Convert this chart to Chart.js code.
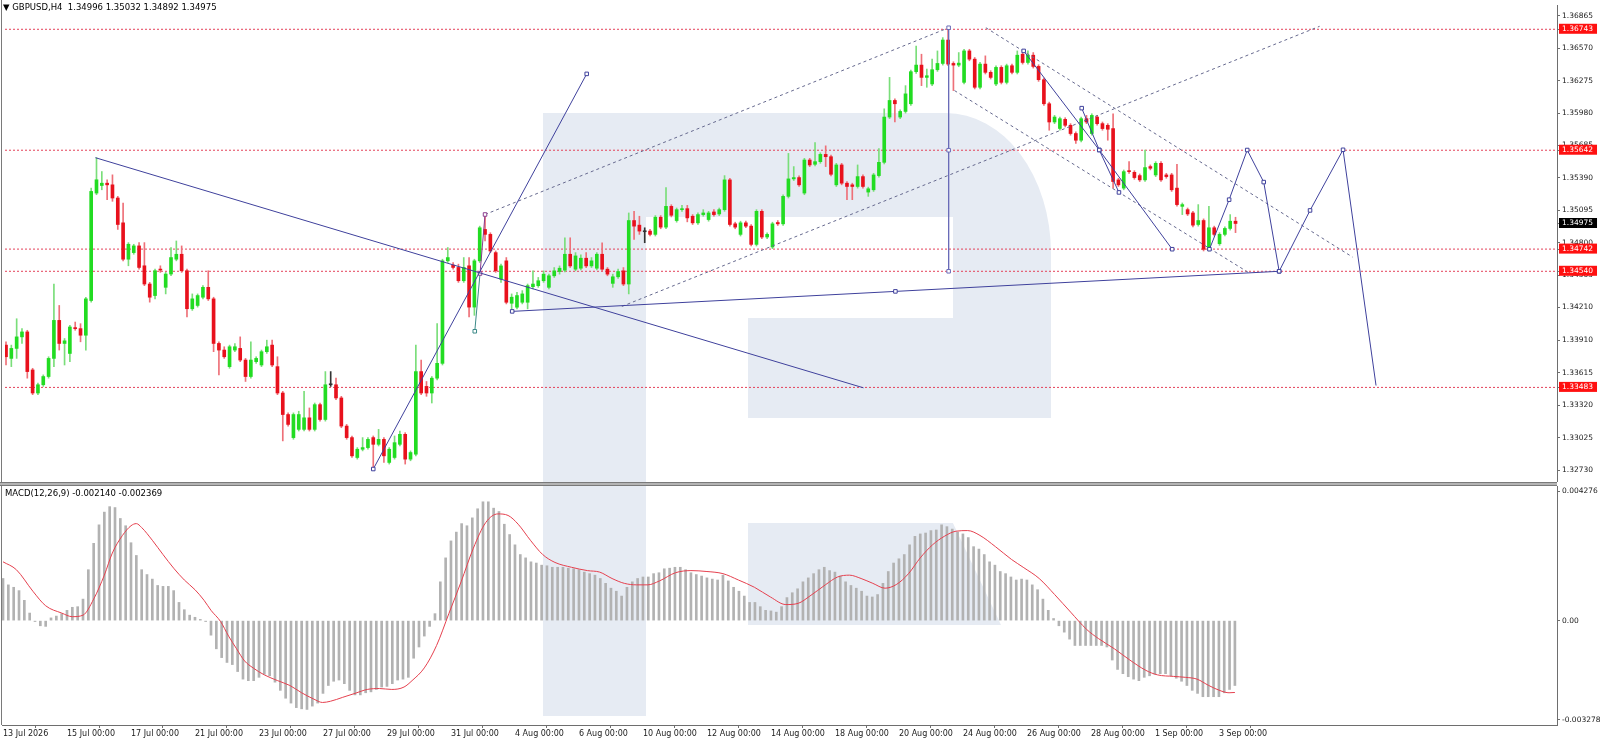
<!DOCTYPE html>
<html><head><meta charset="utf-8">
<script src="https://cdn.jsdelivr.net/npm/chart.js@4.4.1/dist/chart.umd.min.js"></script>
<style>
html,body{margin:0;padding:0;background:#fff;}
body{width:1600px;height:741px;position:relative;overflow:hidden;font-family:'DejaVu Sans',sans-serif;}
.wm{position:absolute;background:#e6ebf3;z-index:0;}
.wh{position:absolute;background:#fff;z-index:0;}
canvas{position:absolute;left:0;z-index:1;}
.ln{position:absolute;z-index:2;}
.txt{position:absolute;z-index:3;font-size:8.5px;color:#000;white-space:pre;font-family:'DejaVu Sans',sans-serif;}
</style></head><body>
<div class="wm" style="left:543px;top:113px;width:508px;height:305px;border-top-right-radius:105px 140px;"></div>
<div class="wh" style="left:646px;top:217px;width:307px;height:101px;"></div>
<div class="wh" style="left:646px;top:318px;width:102px;height:100px;"></div>
<div class="wm" style="left:543px;top:113px;width:103px;height:603px;"></div>
<div class="wm" style="left:748px;top:523px;width:253px;height:102px;clip-path:polygon(0 0,81% 0,100% 100%,0 100%);"></div>
<canvas id="main" width="1600" height="486" style="top:0"></canvas>
<canvas id="macd" width="1600" height="255" style="top:486px"></canvas>
<div class="ln" style="left:1px;top:0;width:1px;height:725px;background:#7a7a7a"></div>
<div class="ln" style="left:0;top:482px;width:1557px;height:1px;background:#7a7a7a"></div>
<div class="ln" style="left:0;top:483px;width:1557px;height:2px;background:#b4b4b4"></div>
<div class="ln" style="left:0;top:485px;width:1557px;height:1px;background:#7a7a7a"></div>
<div class="txt" style="left:3px;top:2px;">▼ GBPUSD,H4  1.34996 1.35032 1.34892 1.34975</div>
<div class="txt" style="left:5px;top:488px;">MACD(12,26,9) -0.002140 -0.002369</div>
<script>
// ---- price candles (H4, bar index 0 = 13 Jul 2026 00:00) ----
const openP = [1.33868,1.33747,1.33838,1.33943,1.33988,1.33642,1.33432,1.33507,1.33582,1.33747,
1.34093,1.33883,1.33792,1.34027,1.34018,1.33958,1.34274,1.35252,1.35321,1.35342,
1.35327,1.35207,1.34981,1.34650,1.34710,1.34771,1.34590,1.34424,1.34319,1.34560,
1.34394,1.34515,1.34650,1.34695,1.34545,1.34199,1.34229,1.34304,1.34394,1.34289,
1.33883,1.33823,1.33672,1.33823,1.33838,1.33732,1.33582,1.33717,1.33687,1.33808,
1.33868,1.33672,1.33432,1.33236,1.33026,1.33101,1.33101,1.33206,1.33101,1.33326,
1.33191,1.33507,1.33507,1.33387,1.33131,1.33026,1.32845,1.32920,1.32935,1.33026,
1.32965,1.33010,1.32800,1.32845,1.32965,1.33056,1.32830,1.32875,1.33627,1.33492,
1.33432,1.33567,1.33702,1.34635,1.34596,1.34575,1.34454,1.34590,1.34214,1.34635,
1.34921,1.34876,1.34710,1.34469,1.34635,1.34249,1.34213,1.34258,1.34258,1.34400,
1.34409,1.34454,1.34394,1.34499,1.34538,1.34550,1.34695,1.34559,1.34568,1.34659,
1.34589,1.34568,1.34695,1.34559,1.34430,1.34490,1.34544,1.34424,1.35002,1.34960,
1.34900,1.34906,1.34876,1.35032,1.34942,1.35131,1.35002,1.35101,1.35110,1.35041,
1.34981,1.35056,1.35011,1.35080,1.35062,1.35101,1.35372,1.34972,1.34876,1.34981,
1.34951,1.34785,1.35086,1.34852,1.34761,1.34984,1.34972,1.35222,1.35381,1.35393,
1.35252,1.35553,1.35514,1.35538,1.35604,1.35583,1.35327,1.35508,1.35342,1.35327,
1.35312,1.35402,1.35261,1.35282,1.35411,1.35532,1.35944,1.36095,1.35944,1.35995,
1.36065,1.36357,1.36417,1.36305,1.36245,1.36375,1.36432,1.36645,1.36432,1.36417,
1.36260,1.36546,1.36471,1.36215,1.36426,1.36351,1.36245,1.36396,1.36260,1.36411,
1.36351,1.36516,1.36441,1.36507,1.36405,1.36284,1.36065,1.35899,1.35840,1.35923,
1.35869,1.35794,1.35733,1.35929,1.35794,1.35944,1.35884,1.35869,1.35839,1.35372,
1.35297,1.35453,1.35441,1.35411,1.35372,1.35493,1.35417,1.35523,1.35417,1.35417,
1.35297,1.35131,1.35101,1.35071,1.34966,1.35002,1.34740,1.34936,1.34791,1.34876,
1.34930,1.34996];
const highP = [1.33898,1.33868,1.34108,1.34018,1.34003,1.33657,1.33522,1.33597,1.33762,1.34424,
1.34229,1.33928,1.34048,1.34078,1.34063,1.34304,1.35297,1.35574,1.35448,1.35372,
1.35418,1.35222,1.35162,1.34801,1.34786,1.34801,1.34801,1.34439,1.34560,1.34590,
1.34530,1.34756,1.34816,1.34771,1.34560,1.34334,1.34334,1.34409,1.34545,1.34304,
1.33898,1.33853,1.33868,1.33883,1.33943,1.33747,1.33898,1.33762,1.33823,1.33913,
1.33913,1.33762,1.33447,1.33251,1.33251,1.33266,1.33447,1.33296,1.33341,1.33341,
1.33627,1.33627,1.33567,1.33402,1.33146,1.33041,1.32935,1.33026,1.33026,1.33041,
1.33101,1.33026,1.32935,1.33041,1.33086,1.33071,1.32905,1.33868,1.33732,1.33537,
1.33582,1.34063,1.34650,1.34756,1.34620,1.34605,1.34665,1.34665,1.34650,1.34951,
1.35057,1.34891,1.34725,1.34605,1.34665,1.34334,1.34349,1.34364,1.34424,1.34544,
1.34484,1.34544,1.34514,1.34574,1.34589,1.34845,1.34845,1.34710,1.34689,1.34710,
1.34665,1.34710,1.34800,1.34574,1.34514,1.34559,1.34574,1.35071,1.35086,1.35041,
1.34936,1.34921,1.35047,1.35047,1.35303,1.35146,1.35116,1.35140,1.35140,1.35056,
1.35071,1.35101,1.35086,1.35101,1.35116,1.35411,1.35387,1.34987,1.34996,1.34996,
1.34966,1.35101,1.35101,1.34891,1.34987,1.35002,1.35237,1.35613,1.35493,1.35408,
1.35568,1.35568,1.35712,1.35619,1.35682,1.35598,1.35523,1.35523,1.35357,1.35342,
1.35508,1.35417,1.35306,1.35432,1.35658,1.36019,1.36305,1.36110,1.36010,1.36230,
1.36372,1.36591,1.36516,1.36381,1.36471,1.36546,1.36667,1.36757,1.36447,1.36531,
1.36561,1.36561,1.36486,1.36441,1.36501,1.36366,1.36411,1.36411,1.36426,1.36426,
1.36546,1.36546,1.36546,1.36531,1.36420,1.36299,1.36080,1.35959,1.35944,1.35938,
1.35884,1.35809,1.35944,1.35959,1.35974,1.35959,1.35899,1.35884,1.35974,1.35387,
1.35462,1.35538,1.35456,1.35426,1.35643,1.35508,1.35538,1.35538,1.35432,1.35432,
1.35514,1.35162,1.35116,1.35086,1.35147,1.35017,1.35131,1.34951,1.34891,1.34945,
1.35056,1.35032];
const lowP = [1.33687,1.33672,1.33747,1.33883,1.33567,1.33417,1.33417,1.33492,1.33567,1.33672,
1.33823,1.33687,1.33717,1.34003,1.33898,1.33823,1.34259,1.35237,1.35282,1.35192,
1.35177,1.34921,1.34635,1.34590,1.34695,1.34560,1.34409,1.34259,1.34289,1.34530,
1.34334,1.34500,1.34635,1.34530,1.34124,1.34184,1.34214,1.34289,1.34274,1.33808,
1.33597,1.33747,1.33657,1.33808,1.33717,1.33537,1.33567,1.33702,1.33672,1.33793,
1.33672,1.33417,1.32996,1.33131,1.33011,1.33086,1.33086,1.33086,1.33086,1.33176,
1.33176,1.33492,1.33372,1.33116,1.33011,1.32845,1.32830,1.32905,1.32920,1.32740,
1.32950,1.32800,1.32785,1.32830,1.32950,1.32785,1.32815,1.32860,1.33417,1.33402,
1.33341,1.33552,1.33687,1.34620,1.34560,1.34439,1.34439,1.34124,1.34139,1.34620,
1.34816,1.34710,1.34530,1.34439,1.34243,1.34174,1.34198,1.34243,1.34198,1.34379,
1.34394,1.34439,1.34379,1.34484,1.34514,1.34535,1.34574,1.34544,1.34553,1.34574,
1.34574,1.34553,1.34544,1.34499,1.34394,1.34475,1.34409,1.34334,1.34831,1.34876,
1.34800,1.34861,1.34861,1.34927,1.34927,1.35035,1.34987,1.35086,1.34990,1.34966,
1.34966,1.35041,1.34996,1.35041,1.35047,1.35086,1.34951,1.34927,1.34861,1.34936,
1.34770,1.34770,1.34837,1.34837,1.34746,1.34957,1.34957,1.35207,1.35366,1.35312,
1.35237,1.35493,1.35499,1.35523,1.35493,1.35408,1.35312,1.35327,1.35192,1.35192,
1.35297,1.35297,1.35222,1.35267,1.35396,1.35517,1.35929,1.35899,1.35929,1.35980,
1.36050,1.36342,1.36230,1.36215,1.36230,1.36360,1.36417,1.36411,1.36185,1.36402,
1.36245,1.36456,1.36200,1.36200,1.36336,1.36290,1.36230,1.36245,1.36245,1.36336,
1.36336,1.36426,1.36426,1.36390,1.36269,1.36050,1.35824,1.35884,1.35825,1.35854,
1.35779,1.35703,1.35718,1.35884,1.35779,1.35869,1.35824,1.35733,1.35297,1.35312,
1.35282,1.35432,1.35378,1.35357,1.35357,1.35463,1.35402,1.35357,1.35387,1.35267,
1.35132,1.35056,1.35047,1.34945,1.34951,1.34725,1.34725,1.34861,1.34776,1.34861,
1.34915,1.34892];
const closeP = [1.33762,1.33838,1.33943,1.33988,1.33627,1.33432,1.33507,1.33582,1.33747,1.34093,
1.33883,1.33907,1.34033,1.34018,1.33958,1.34289,1.35267,1.35373,1.35342,1.35327,
1.35207,1.34966,1.34650,1.34786,1.34771,1.34575,1.34424,1.34304,1.34545,1.34551,
1.34515,1.34665,1.34695,1.34545,1.34199,1.34289,1.34319,1.34394,1.34289,1.33883,
1.33823,1.33762,1.33853,1.33853,1.33732,1.33582,1.33732,1.33747,1.33808,1.33853,
1.33687,1.33432,1.33236,1.33146,1.33236,1.33236,1.33206,1.33101,1.33326,1.33191,
1.33507,1.33507,1.33387,1.33131,1.33026,1.32860,1.32920,1.32935,1.33010,1.32965,
1.33010,1.32860,1.32920,1.32980,1.33056,1.32830,1.32890,1.33627,1.33432,1.33432,
1.33567,1.33702,1.34635,1.34665,1.34575,1.34454,1.34575,1.34214,1.34635,1.34936,
1.34876,1.34725,1.34545,1.34589,1.34258,1.34304,1.34319,1.34334,1.34409,1.34424,
1.34454,1.34514,1.34499,1.34544,1.34568,1.34695,1.34589,1.34680,1.34659,1.34589,
1.34635,1.34695,1.34559,1.34514,1.34490,1.34538,1.34424,1.35002,1.34951,1.34906,
1.34900,1.34876,1.35032,1.34942,1.35131,1.35050,1.35101,1.35110,1.35026,1.34981,
1.35056,1.35071,1.35071,1.35056,1.35101,1.35372,1.34966,1.34942,1.34981,1.34951,
1.34785,1.35086,1.34852,1.34876,1.34972,1.34972,1.35222,1.35381,1.35393,1.35327,
1.35553,1.35508,1.35538,1.35604,1.35583,1.35423,1.35508,1.35342,1.35312,1.35312,
1.35402,1.35312,1.35291,1.35417,1.35532,1.35944,1.36095,1.36065,1.35995,1.36155,
1.36357,1.36417,1.36305,1.36320,1.36375,1.36432,1.36645,1.36426,1.36417,1.36435,
1.36546,1.36471,1.36215,1.36426,1.36351,1.36305,1.36396,1.36260,1.36411,1.36351,
1.36507,1.36441,1.36507,1.36405,1.36284,1.36065,1.35899,1.35944,1.35929,1.35869,
1.35794,1.35733,1.35929,1.35899,1.35959,1.35884,1.35839,1.35833,1.35357,1.35327,
1.35447,1.35447,1.35393,1.35372,1.35484,1.35478,1.35523,1.35372,1.35402,1.35282,
1.35147,1.35147,1.35062,1.34960,1.35002,1.34740,1.34936,1.34876,1.34876,1.34930,
1.34996,1.34975];

// ---- MACD(12,26,9): main line (histogram) and signal ----
const macdMain = [0.00139,0.00118,0.00110,0.00099,0.00067,0.00025,-0.00003,-0.00017,-0.00019,0.00009,
0.00015,0.00023,0.00034,0.00044,0.00046,0.00071,0.00168,0.00255,0.00316,0.00358,
0.00376,0.00373,0.00337,0.00313,0.00257,0.00215,0.00168,0.00152,0.00137,0.00116,
0.00113,0.00113,0.00099,0.00060,0.00036,0.00018,0.00011,0.00004,-0.00003,-0.00048,
-0.00093,-0.00122,-0.00138,-0.00145,-0.00168,-0.00193,-0.00198,-0.00198,-0.00187,-0.00177,
-0.00182,-0.00203,-0.00230,-0.00256,-0.00272,-0.00287,-0.00291,-0.00293,-0.00282,-0.00272,
-0.00240,-0.00214,-0.00200,-0.00196,-0.00208,-0.00230,-0.00245,-0.00245,-0.00238,-0.00235,
-0.00227,-0.00219,-0.00217,-0.00208,-0.00196,-0.00193,-0.00187,-0.00124,-0.00087,-0.00051,
-0.00019,0.00023,0.00128,0.00207,0.00263,0.00292,0.00320,0.00313,0.00339,0.00369,
0.00392,0.00392,0.00371,0.00360,0.00318,0.00284,0.00250,0.00218,0.00207,0.00194,
0.00190,0.00183,0.00181,0.00176,0.00176,0.00176,0.00173,0.00171,0.00168,0.00160,
0.00155,0.00150,0.00139,0.00123,0.00107,0.00097,0.00081,0.00110,0.00128,0.00139,
0.00144,0.00144,0.00155,0.00158,0.00171,0.00173,0.00176,0.00176,0.00168,0.00158,
0.00152,0.00147,0.00141,0.00137,0.00134,0.00150,0.00131,0.00110,0.00097,0.00081,
0.00060,0.00060,0.00046,0.00034,0.00032,0.00028,0.00046,0.00076,0.00092,0.00105,
0.00128,0.00141,0.00155,0.00168,0.00176,0.00165,0.00160,0.00147,0.00128,0.00116,
0.00107,0.00097,0.00081,0.00078,0.00086,0.00123,0.00162,0.00190,0.00204,0.00218,
0.00250,0.00278,0.00286,0.00289,0.00297,0.00299,0.00316,0.00310,0.00302,0.00292,
0.00286,0.00274,0.00244,0.00236,0.00218,0.00194,0.00183,0.00162,0.00155,0.00144,
0.00134,0.00137,0.00134,0.00118,0.00102,0.00071,0.00034,0.00007,-0.00017,-0.00038,
-0.00061,-0.00082,-0.00082,-0.00082,-0.00082,-0.00082,-0.00082,-0.00087,-0.00130,-0.00161,
-0.00175,-0.00185,-0.00193,-0.00198,-0.00187,-0.00182,-0.00177,-0.00175,-0.00175,-0.00182,
-0.00190,-0.00200,-0.00214,-0.00230,-0.00240,-0.00251,-0.00251,-0.00251,-0.00251,-0.00238,
-0.00227,-0.00214];
const signalBar = [0,2.5,5.6,8,11,13,15,17,19,20.5,22.4,24,25,26,28,30,32,34,36,37.7,39,40.8,42.3,43.8,45.3,46.9,49,51.5,53.8,56,58.3,59.9,61.4,63.7,66,68.3,70.6,72.9,75.2,76.7,79,81.3,83.6,85.9,88.2,90.5,92.8,94.7,96.6,98.9,101.2,103.5,106.6,109.6,111.9,114.2,116.5,118.8,120.9,123.1,126.1,129,132,135,137.9,140.9,143.9,146.8,149.1,151.3,154.2,156.5,158.7,160.9,163.1,165.4,167.6,169.8,172,174.3,176.5,178.7,180.9,183.2,186.1,189.1,191.3,194.3,197.2,200.2,203.2,205.4,208.4,211.3,214.3,216.5,219.5,221.7,223.9,226.1,228.4,229.9,231];
const signalVal = [0.00194,0.00168,0.00097,0.00049,0.00025,0.00013,0.00018,0.00071,0.00150,0.00223,0.00281,0.00313,0.00320,0.00307,0.00265,0.00218,0.00173,0.00134,0.00102,0.00067,0.00034,-0.00003,-0.00051,-0.00093,-0.00133,-0.00156,-0.00179,-0.00198,-0.00214,-0.00238,-0.00259,-0.00270,-0.00266,-0.00253,-0.00240,-0.00227,-0.00224,-0.00227,-0.00219,-0.00198,-0.00156,-0.00082,0.00023,0.00128,0.00239,0.00323,0.00352,0.00347,0.00318,0.00265,0.00218,0.00192,0.00176,0.00165,0.00160,0.00139,0.00123,0.00118,0.00118,0.00131,0.00158,0.00165,0.00162,0.00155,0.00134,0.00110,0.00078,0.00053,0.00057,0.00081,0.00118,0.00144,0.00150,0.00139,0.00123,0.00107,0.00120,0.00155,0.00207,0.00250,0.00278,0.00295,0.00297,0.00281,0.00244,0.00202,0.00176,0.00139,0.00086,0.00028,-0.00029,-0.00059,-0.00093,-0.00130,-0.00164,-0.00179,-0.00184,-0.00187,-0.00193,-0.00214,-0.00232,-0.00238,-0.00237];

// ---- axes ----
const priceTicks = [1.36865,1.36570,1.36275,1.35980,1.35685,1.35390,1.35095,1.34800,1.34505,1.34210,1.33910,1.33615,1.33320,1.33025,1.32730];
const levelPrices = [1.36743,1.35642,1.34742,1.34540,1.33483];
const bidPrice = 1.34975;
const macdTicks = [0.004276,0,-0.003278];
const dateBars = [0,12,24,36,48,60,72,84,96,108,120,132,144,156,168,180,192,204,216,228];
const dateLabels = ['13 Jul 2026','15 Jul 00:00','17 Jul 00:00','21 Jul 00:00','23 Jul 00:00','27 Jul 00:00','29 Jul 00:00','31 Jul 00:00','4 Aug 00:00','6 Aug 00:00','10 Aug 00:00','12 Aug 00:00','14 Aug 00:00','18 Aug 00:00','20 Aug 00:00','24 Aug 00:00','26 Aug 00:00','28 Aug 00:00','1 Sep 00:00','3 Sep 00:00'];

// ---- analysis drawings: [bar, price] ----
const trendFromHigh = [[16.8,1.35574],[161.1,1.33479]];
const trendFromLow = [[69.0,1.32740],[109.1,1.36337]];
const shortUpper = [[90.0,1.35057],[89.06,1.34520]];
const shortLower = [[89.06,1.34520],[88.07,1.33994]];
const baseLine = [[95.1,1.34175],[167.1,1.34357],[239.2,1.34540]];
const chanUpA = [[90.0,1.35057],[177.1,1.36757]];
const chanUpB = [[115.7,1.34220],[246.8,1.36770]];
const chanDnA = [[184.1,1.36757],[253.0,1.34669]];
const chanDnB = [[178.2,1.36185],[233.8,1.34518]];
const peakVertical = [[177.1,1.36757],[177.1,1.35642],[177.1,1.34540]];
const dropLong = [[191.2,1.36546],[205.4,1.35644],[219.1,1.34741]];
const dropShort = [[202.1,1.36025],[205.4,1.35644],[209.1,1.35258]];
const forecastPath = [[226.1,1.34741],[229.8,1.35192],[233.2,1.35644],[236.3,1.35352],[239.2,1.34540],[245.0,1.35094],[251.2,1.35646],[257.4,1.33500]];

const X_MIN = -0.19, X_MAX = 291.4;
const Y_MIN = 1.32631, Y_MAX = 1.36964;
const M_MIN = -0.003443, M_MAX = 0.004441;

const UP = '#22dc22', DOWN = '#e8111c', DOJI = '#333333';
const UPW = '#7ade7a', DOWNW = '#ee7078';
const NAVY = '#3f419c', DASHC = '#66698e', LEVEL = '#e4425a';
const FONT = 'DejaVu Sans';

function kind(i){ return closeP[i] > openP[i] ? 1 : (closeP[i] < openP[i] ? -1 : 0); }

const wickData = openP.map((o,i)=>({x:i, y:[lowP[i], highP[i]]}));
const bodyData = openP.map((o,i)=>({x:i, y:[o, closeP[i]]}));

function overlay(points, color, o){
  o = o || {};
  return {
    type:'line',
    data: points.map(p=>({x:p[0], y:p[1]})),
    borderColor: color, borderWidth: o.width || 1, borderDash: o.dash || [],
    pointRadius: points.map((p,k)=> (o.marks && o.marks[k]) ? 2.5 : 0),
    pointStyle:'rect', pointBackgroundColor:'#ffffff', pointBorderColor: color, pointBorderWidth:1,
    tension:0, fill:false, order: o.order === undefined ? 1 : o.order
  };
}

const mainSets = [];
levelPrices.forEach(l => mainSets.push(overlay([[X_MIN,l],[X_MAX,l]], LEVEL, {dash:[2,2], order:20})));
mainSets.push({type:'bar', data: wickData, grouped:false, barThickness:1, order:9,
  backgroundColor: c => { const k = kind(c.dataIndex); return k>0?UPW:(k<0?DOWNW:DOJI); }});
mainSets.push({type:'bar', data: bodyData, grouped:false, barThickness:3, minBarLength:1, order:8,
  backgroundColor: c => { const k = kind(c.dataIndex); return k>0?UP:(k<0?DOWN:DOJI); }});
mainSets.push(overlay(chanUpA, DASHC, {dash:[3,3], order:3}));
mainSets.push(overlay(chanUpB, DASHC, {dash:[3,3], order:3}));
mainSets.push(overlay(chanDnA, DASHC, {dash:[3,3], order:3}));
mainSets.push(overlay(chanDnB, DASHC, {dash:[3,3], order:3}));
mainSets.push(overlay(trendFromHigh, NAVY, {}));
mainSets.push(overlay(trendFromLow, NAVY, {marks:[true,true]}));
mainSets.push(overlay(shortUpper, '#8a3c8e', {marks:[true,true]}));
mainSets.push(overlay(shortLower, '#3c8a88', {marks:[false,true]}));
mainSets.push(overlay(baseLine, NAVY, {marks:[true,true,true]}));
mainSets.push(overlay(peakVertical, '#6a6cb8', {marks:[true,true,true]}));
mainSets.push(overlay(dropLong, NAVY, {marks:[true,true,true]}));
mainSets.push(overlay(dropShort, NAVY, {marks:[true,true,true]}));
mainSets.push(overlay(forecastPath, NAVY, {marks:[true,true,true,true,true,true,true,false]}));

new Chart(document.getElementById('main'), {
  type:'bar',
  data:{datasets: mainSets},
  options:{
    responsive:false, animation:false, events:[],
    layout:{padding:{left:2,right:0,top:2,bottom:4}},
    plugins:{legend:{display:false}, tooltip:{enabled:false}, title:{display:false}},
    scales:{
      x:{type:'linear', min:X_MIN, max:X_MAX, display:false, offset:false},
      y:{type:'linear', position:'right', min:Y_MIN, max:Y_MAX,
        afterBuildTicks: s => {
          s.ticks = priceTicks.map(v=>({value:v, kind:'p'}))
            .concat(levelPrices.map(v=>({value:v, kind:'lvl'})))
            .concat([{value:bidPrice, kind:'bid'}]);
        },
        afterFit: s => { s.width = 43; s.paddingTop = 0; s.paddingBottom = 0; },
        border:{display:true, color:'#6e6e6e', width:1},
        grid:{drawOnChartArea:false, drawTicks:true, tickLength:3, color:'#6e6e6e'},
        ticks:{autoSkip:false, padding:2, font:{family:FONT, size:7.5},
          color: c => (c.tick && c.tick.kind !== 'p') ? '#ffffff' : '#1a1a1a',
          showLabelBackdrop: c => !!(c.tick && c.tick.kind !== 'p'),
          backdropColor: c => (c.tick && c.tick.kind === 'bid') ? '#000000' : '#ff1010',
          backdropPadding:{top:1,bottom:0,left:3,right:4},
          callback: v => Number(v).toFixed(5)}
      }
    }
  }
});

new Chart(document.getElementById('macd'), {
  type:'bar',
  data:{datasets:[
    {type:'line', data: signalBar.map((b,k)=>({x:b, y:signalVal[k]})), borderColor:'#e5404e', borderWidth:1,
     pointRadius:0, cubicInterpolationMode:'monotone', fill:false, order:1},
    {type:'bar', data: macdMain.map((v,i)=>({x:i, y:v})), grouped:false, barThickness:2,
     backgroundColor:'#b2b2b2', order:2}
  ]},
  options:{
    responsive:false, animation:false, events:[],
    layout:{padding:{left:2,right:0,top:0,bottom:0}},
    plugins:{legend:{display:false}, tooltip:{enabled:false}},
    scales:{
      x:{type:'linear', min:X_MIN, max:X_MAX, offset:false,
        afterBuildTicks: s => { s.ticks = dateBars.map(v=>({value:v})); },
        afterFit: s => { s.height = 16; s.paddingLeft = 0; s.paddingRight = 0; },
        border:{display:true, color:'#6e6e6e', width:1},
        grid:{drawOnChartArea:false, drawTicks:true, tickLength:3, color:'#6e6e6e'},
        ticks:{autoSkip:false, maxRotation:0, minRotation:0, align:'start', padding:1,
          font:{family:FONT, size:8}, color:'#1a1a1a', callback:(v,i)=>dateLabels[i]}
      },
      y:{type:'linear', position:'right', min:M_MIN, max:M_MAX,
        afterBuildTicks: s => { s.ticks = macdTicks.map(v=>({value:v})); },
        afterFit: s => { s.width = 43; s.paddingTop = 0; s.paddingBottom = 0; },
        border:{display:true, color:'#6e6e6e', width:1},
        grid:{drawOnChartArea:false, drawTicks:true, tickLength:3, color:'#6e6e6e'},
        ticks:{autoSkip:false, padding:2, font:{family:FONT, size:7.5}, color:'#1a1a1a',
          callback: v => v === 0 ? '0.00' : Number(v).toFixed(6)}
      }
    }
  }
});
</script>
</body></html>
